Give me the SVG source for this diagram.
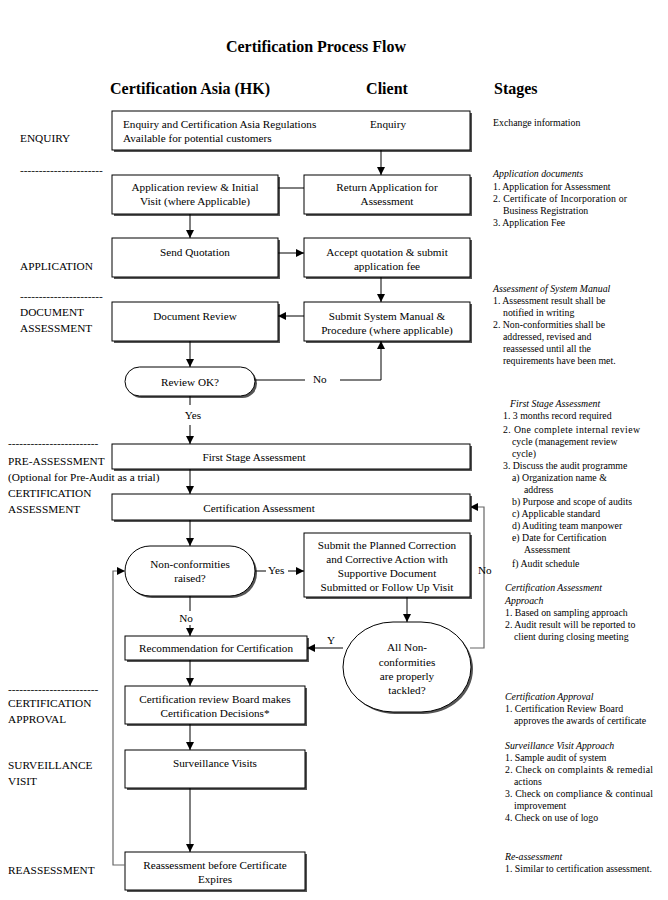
<svg xmlns="http://www.w3.org/2000/svg" width="668" height="900" viewBox="0 0 668 900">
<style>
text{font-family:"Liberation Serif","Times New Roman",serif;fill:#000}
.t{font-size:16px;font-weight:bold}
.h{font-size:16px;font-weight:bold}
.b{font-size:11.2px}
.c{text-anchor:middle}
.l{font-size:11.3px}
.s{font-size:9.8px}
.i{font-style:italic}
.box{fill:#fff;stroke:#000;stroke-width:1}
.sh{fill:#555;stroke:none}
.ln{fill:none;stroke:#000;stroke-width:1}
.gl{fill:none;stroke:#666;stroke-width:1.2}
</style>
<defs>
<marker id="ah" viewBox="0 0 10 10" refX="10" refY="5" markerWidth="8" markerHeight="8" markerUnits="userSpaceOnUse" orient="auto">
<path d="M0,0 L10,5 L0,10 z" fill="#000"/>
</marker>
</defs>
<rect width="668" height="900" fill="#fff"/>
<text class="t c" x="316" y="52">Certification Process Flow</text>
<text class="h" x="110" y="94">Certification Asia (HK)</text>
<text class="h c" x="387" y="94">Client</text>
<text class="h" x="494" y="94">Stages</text>

<g id="left-labels" class="l">
<text x="20" y="142">ENQUIRY</text>
<text x="20" y="174">----------------------</text>
<text x="20" y="270">APPLICATION</text>
<text x="20" y="300">----------------------</text>
<text x="20" y="316">DOCUMENT</text>
<text x="20" y="332">ASSESSMENT</text>
<text x="8" y="447">------------------------</text>
<text x="8" y="465">PRE-ASSESSMENT</text>
<text x="8" y="481">(Optional for Pre-Audit as a trial)</text>
<text x="8" y="497">CERTIFICATION</text>
<text x="8" y="513">ASSESSMENT</text>
<text x="8" y="693">------------------------</text>
<text x="8" y="707">CERTIFICATION</text>
<text x="8" y="723">APPROVAL</text>
<text x="8" y="769">SURVEILLANCE</text>
<text x="8" y="785">VISIT</text>
<text x="8" y="874">REASSESSMENT</text>
</g>

<g id="n-enquiry">
<rect class="sh" x="114" y="113" width="358" height="39"/>
<rect class="box" x="112" y="111" width="358" height="39"/>
<text class="b" x="123" y="128">Enquiry and Certification Asia Regulations</text>
<text class="b" x="123" y="142">Available for potential customers</text>
<text class="b c" x="388" y="128">Enquiry</text>
</g>
<g id="n-appreview">
<rect class="sh" x="114" y="177" width="166" height="39"/>
<rect class="box" x="112" y="175" width="166" height="39"/>
<text class="b c" x="195" y="191">Application review &amp; Initial</text>
<text class="b c" x="195" y="205">Visit (where Applicable)</text>
</g>
<g id="n-return">
<rect class="sh" x="306" y="177" width="166" height="39"/>
<rect class="box" x="304" y="175" width="166" height="39"/>
<text class="b c" x="387" y="191">Return Application for</text>
<text class="b c" x="387" y="205">Assessment</text>
</g>
<g id="n-quote">
<rect class="sh" x="114" y="240" width="166" height="39"/>
<rect class="box" x="112" y="238" width="166" height="39"/>
<text class="b c" x="195" y="256">Send Quotation</text>
</g>
<g id="n-accept">
<rect class="sh" x="306" y="240" width="166" height="39"/>
<rect class="box" x="304" y="238" width="166" height="39"/>
<text class="b c" x="387" y="256">Accept quotation &amp; submit</text>
<text class="b c" x="387" y="270">application fee</text>
</g>
<g id="n-docreview">
<rect class="sh" x="114" y="304" width="166" height="39"/>
<rect class="box" x="112" y="302" width="166" height="39"/>
<text class="b c" x="195" y="320">Document Review</text>
</g>
<g id="n-submitmanual">
<rect class="sh" x="306" y="304" width="166" height="39"/>
<rect class="box" x="304" y="302" width="166" height="39"/>
<text class="b c" x="387" y="320">Submit System Manual &amp;</text>
<text class="b c" x="387" y="334">Procedure (where applicable)</text>
</g>
<g id="n-reviewok">
<rect class="sh" x="127" y="369" width="130" height="29" rx="14.5"/>
<rect class="box" x="125" y="367" width="130" height="29" rx="14.5"/>
<text class="b c" x="190" y="386">Review OK?</text>
</g>
<g id="n-firststage">
<rect class="sh" x="114" y="446" width="358" height="25"/>
<rect class="box" x="112" y="444" width="358" height="25"/>
<text class="b c" x="254" y="461">First Stage Assessment</text>
</g>
<g id="n-certassess">
<rect class="sh" x="114" y="496" width="358" height="26"/>
<rect class="box" x="112" y="494" width="358" height="26"/>
<text class="b c" x="259" y="512">Certification Assessment</text>
</g>
<g id="n-ncraised">
<rect class="sh" x="127" y="548" width="130" height="50" rx="25"/>
<rect class="box" x="125" y="546" width="130" height="50" rx="25"/>
<text class="b c" x="190" y="568">Non-conformities</text>
<text class="b c" x="190" y="582">raised?</text>
</g>
<g id="n-submitcorr">
<rect class="sh" x="306" y="535" width="166" height="64"/>
<rect class="box" x="304" y="533" width="166" height="64"/>
<text class="b c" x="387" y="549">Submit the Planned Correction</text>
<text class="b c" x="387" y="563">and Corrective Action with</text>
<text class="b c" x="387" y="577">Supportive Document</text>
<text class="b c" x="387" y="591">Submitted or Follow Up Visit</text>
</g>
<g id="n-alltackled">
<rect class="sh" x="345" y="624" width="128" height="90" rx="50" ry="45"/>
<rect class="box" x="343" y="622" width="128" height="90" rx="50" ry="45"/>
<text class="b c" x="407" y="651">All Non-</text>
<text class="b c" x="407" y="666">conformities</text>
<text class="b c" x="407" y="680">are properly</text>
<text class="b c" x="407" y="694">tackled?</text>
</g>
<g id="n-recommend">
<rect class="sh" x="127" y="638" width="182" height="24"/>
<rect class="box" x="125" y="636" width="182" height="24"/>
<text class="b c" x="216" y="652">Recommendation for Certification</text>
</g>
<g id="n-board">
<rect class="sh" x="127" y="688" width="180" height="38"/>
<rect class="box" x="125" y="686" width="180" height="38"/>
<text class="b c" x="215" y="703">Certification review Board makes</text>
<text class="b c" x="215" y="717">Certification Decisions*</text>
</g>
<g id="n-surveillance">
<rect class="sh" x="127" y="752" width="180" height="38"/>
<rect class="box" x="125" y="750" width="180" height="38"/>
<text class="b c" x="215" y="767">Surveillance Visits</text>
</g>
<g id="n-reassess">
<rect class="sh" x="127" y="854" width="180" height="38"/>
<rect class="box" x="125" y="852" width="180" height="38"/>
<text class="b c" x="215" y="869">Reassessment before Certificate</text>
<text class="b c" x="215" y="883">Expires</text>
</g>

<g id="connectors">
<path class="ln" d="M381,150 V175" marker-end="url(#ah)"/>
<path class="ln" d="M278,188 H304"/>
<path class="ln" d="M190,214 V238" marker-end="url(#ah)"/>
<path class="ln" d="M278,253 H304" marker-end="url(#ah)"/>
<path class="ln" d="M381,277 V302" marker-end="url(#ah)"/>
<path class="ln" d="M304,316 H278" marker-end="url(#ah)"/>
<path class="ln" d="M190,341 V367" marker-end="url(#ah)"/>
<path class="ln" d="M255,380 H305 M340,380 H381 V341" marker-end="url(#ah)"/>
<text class="b" x="313" y="383">No</text>
<path class="ln" d="M190,396 V405"/>
<text class="b c" x="193" y="419">Yes</text>
<path class="ln" d="M190,425 V444" marker-end="url(#ah)"/>
<path class="ln" d="M190,469 V494" marker-end="url(#ah)"/>
<path class="ln" d="M190,520 V546" marker-end="url(#ah)"/>
<path class="ln" d="M255,571 H266"/>
<text class="b" x="268" y="574">Yes</text>
<path class="ln" d="M288,571 H304" marker-end="url(#ah)"/>
<path class="ln" d="M190,596 V611"/>
<text class="b c" x="186" y="622">No</text>
<path class="ln" d="M190,625 V636" marker-end="url(#ah)"/>
<path class="ln" d="M407,597 V622" marker-end="url(#ah)"/>
<path class="ln" d="M343,648 H307" marker-end="url(#ah)"/>
<text class="b" x="327" y="644">Y</text>
<path class="gl" d="M470,648 H484 V507 H470" marker-end="url(#ah)"/>
<text class="b" x="478" y="574">No</text>
<path class="ln" d="M190,660 V686" marker-end="url(#ah)"/>
<path class="ln" d="M190,724 V750" marker-end="url(#ah)"/>
<path class="ln" d="M190,788 V852" marker-end="url(#ah)"/>
<path class="gl" d="M125,865 H113 V571 H125" marker-end="url(#ah)"/>
</g>

<g id="stages" class="s">
<text x="493" y="126">Exchange information</text>
<text class="i" x="493" y="177">Application documents</text>
<text x="493" y="190">1. Application for Assessment</text>
<text x="493" y="202" textLength="134" lengthAdjust="spacing">2. Certificate of Incorporation or</text>
<text x="503" y="214">Business Registration</text>
<text x="493" y="226">3. Application Fee</text>

<text class="i" x="493" y="292">Assessment of System Manual</text>
<text x="493" y="304">1. Assessment result shall be</text>
<text x="503" y="316">notified in writing</text>
<text x="493" y="328">2. Non-conformities shall be</text>
<text x="503" y="340">addressed, revised and</text>
<text x="503" y="352">reassessed until all the</text>
<text x="503" y="364">requirements have been met.</text>

<text class="i" x="510" y="407">First Stage Assessment</text>
<text x="503" y="419">1. 3 months record required</text>
<text x="503" y="433" textLength="137" lengthAdjust="spacing">2. One complete internal review</text>
<text x="512" y="445">cycle (management review</text>
<text x="512" y="457">cycle)</text>
<text x="503" y="469">3. Discuss the audit programme</text>
<text x="512" y="481">a) Organization name &amp;</text>
<text x="524" y="493">address</text>
<text x="512" y="505">b) Purpose and scope of audits</text>
<text x="512" y="517">c) Applicable standard</text>
<text x="512" y="529">d) Auditing team manpower</text>
<text x="512" y="541">e) Date for Certification</text>
<text x="524" y="553">Assessment</text>
<text x="512" y="567">f)  Audit schedule</text>

<text class="i" x="505" y="591">Certification Assessment</text>
<text class="i" x="505" y="604">Approach</text>
<text x="505" y="616">1. Based on sampling approach</text>
<text x="505" y="628">2. Audit result will be reported to</text>
<text x="514" y="640">client during closing meeting</text>

<text class="i" x="505" y="700">Certification Approval</text>
<text x="505" y="712">1. Certification Review Board</text>
<text x="514" y="724">approves the awards of certificate</text>

<text class="i" x="505" y="749">Surveillance Visit Approach</text>
<text x="505" y="761">1. Sample audit of system</text>
<text x="505" y="773" textLength="148" lengthAdjust="spacing">2. Check on complaints &amp; remedial</text>
<text x="514" y="785">actions</text>
<text x="505" y="797" textLength="148" lengthAdjust="spacing">3. Check on compliance &amp; continual</text>
<text x="514" y="809">improvement</text>
<text x="505" y="821">4. Check on use of logo</text>

<text class="i" x="505" y="860">Re-assessment</text>
<text x="505" y="872">1. Similar to certification assessment.</text>
</g>
</svg>
